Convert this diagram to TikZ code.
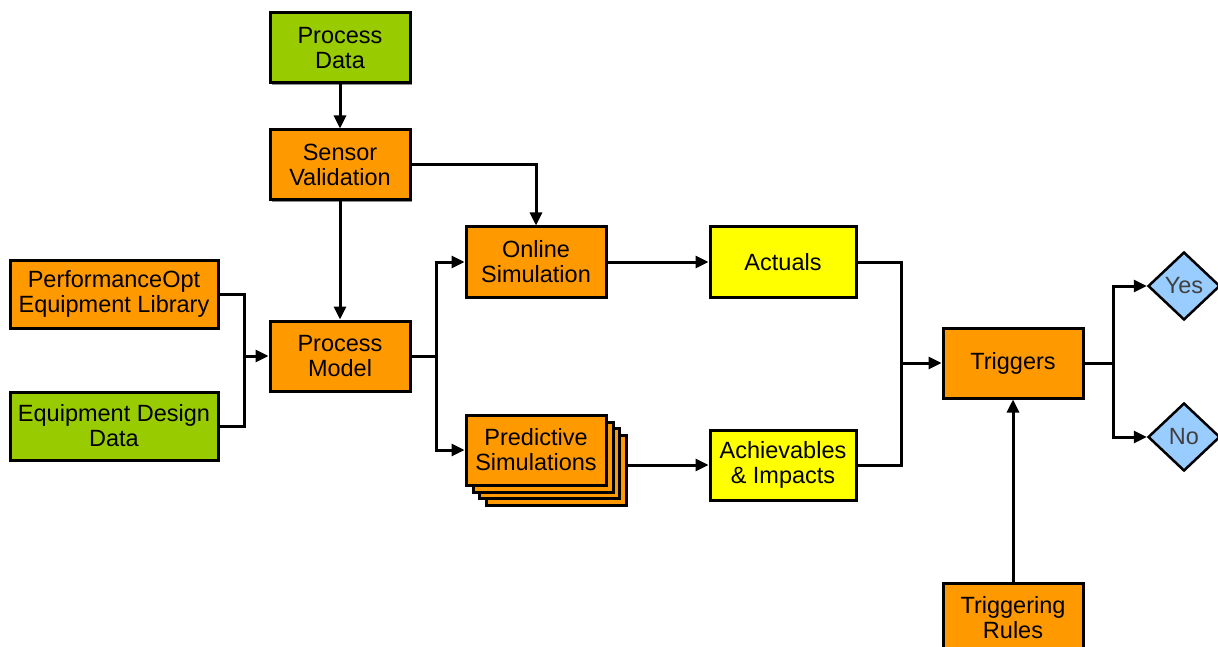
\documentclass[tikz,border=0pt]{standalone}
\usepackage{fontspec}
\setmainfont{Liberation Sans}
\usetikzlibrary{shapes.geometric,arrows.meta,shadows}
\definecolor{datagreen}{HTML}{99CC00}
\definecolor{procorange}{HTML}{FF9900}
\definecolor{resyellow}{HTML}{FFFF00}
\definecolor{ansblue}{HTML}{99CCFF}
\tikzset{
  box/.style={draw,line width=3pt,minimum width=140pt,minimum height=70pt,inner sep=0pt,
    align=center,font=\fontsize{23.5}{25}\selectfont,
    drop shadow={shadow xshift=2pt,shadow yshift=-2pt,fill=black!45,opacity=1}},
  widebox/.style={box,minimum width=208pt,minimum height=68pt},
  resbox/.style={box,minimum width=146pt,fill=resyellow},
  answer/.style={diamond,draw,line width=2.5pt,fill=ansblue,minimum width=72pt,minimum height=68pt,
    inner sep=0pt,font=\fontsize{23.5}{25}\selectfont,text=black!75},
  link/.style={line width=3pt},
  arr/.style={link,-{Triangle[length=13pt,width=12pt]}},
}
\begin{document}
\begin{tikzpicture}[x=1pt,y=-1pt]
\useasboundingbox (0,0) rectangle (1218,647);
% inputs
\node[box,fill=datagreen] (pdata) at (340,48) {Process\\Data};
\node[box,fill=procorange] (sval) at (340,165) {Sensor\\Validation};
\node[widebox,fill=procorange] (perf) at (114,294) {PerformanceOpt\\Equipment Library};
\node[widebox,fill=datagreen] (design) at (114,426) {Equipment Design\\Data};
\node[box,fill=procorange] (pmodel) at (340,356) {Process\\Model};
% simulations
\node[box,fill=procorange] (onsim) at (536,262) {Online\\Simulation};
\foreach \o/\n in {20/predc,13/predb,7/preda}
  \node[box,fill=procorange] (\n) at (536+\o,450+\o) {};
\node[box,fill=procorange] (pred) at (536,450) {Predictive\\Simulations};
\node[resbox] (actual) at (783,262) {Actuals};
\node[resbox] (achv) at (783,465) {Achievables\\\& Impacts};
% triggers
\node[box,fill=procorange] (trig) at (1013,363) {Triggers};
\node[box,fill=procorange] (rules) at (1013,618) {Triggering\\Rules};
\node[answer] (yes) at (1184,286) {Yes};
\node[answer] (no) at (1184,437) {No};
%
\coordinate (jin) at (244,356);
\coordinate (jout) at (436,356);
\coordinate (jtr) at (901,363);
\coordinate (jyn) at (1113,363);
\draw[arr] (pdata) -- (sval);
\draw[arr] (sval.east) -| (onsim.north);
\draw[arr] (sval) -- (pmodel);
\draw[link] (perf.east) -| (jin) |- (design.east);
\draw[arr] (jin) -- (pmodel.west);
\draw[link] (pmodel.east) -- (jout);
\draw[arr] (jout) |- (onsim.west);
\draw[arr] (jout) |- (pred.west);
\draw[arr] (onsim) -- (actual);
\draw[arr] (predc.east |- achv) -- (achv);
\draw[link] (actual.east) -| (jtr) |- (achv.east);
\draw[arr] (jtr) -- (trig.west);
\draw[arr] (rules) -- (trig);
\draw[link] (trig.east) -- (jyn);
\draw[arr] (jyn) |- (yes);
\draw[arr] (jyn) |- (no);
\end{tikzpicture}
\end{document}
